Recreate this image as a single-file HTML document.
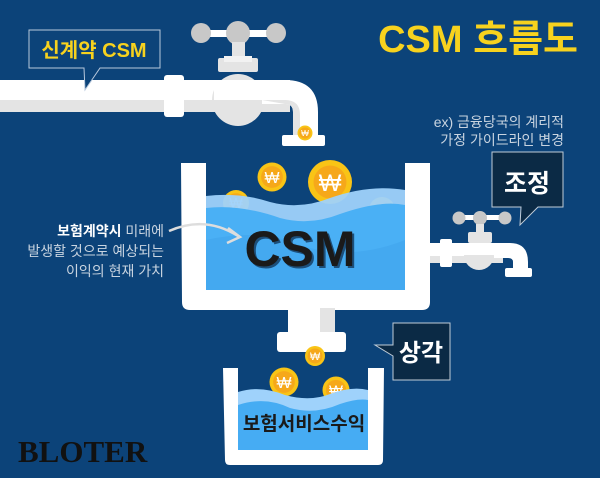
<!DOCTYPE html>
<html><head><meta charset="utf-8"><style>
html,body{margin:0;padding:0;background:#0c4379;}
svg{display:block}
.s{font-family:"Liberation Sans","Noto Sans CJK KR",sans-serif;}
</style></head><body>
<svg width="600" height="478" viewBox="0 0 600 478" xmlns="http://www.w3.org/2000/svg">
<defs>
<g id="coin"><circle r="10" fill="#f9c416"/><circle r="7.5" fill="#f6a81a"/><text class="s" y="4" text-anchor="middle" font-size="11" fill="#fff">₩</text></g>
</defs>
<rect width="600" height="478" fill="#0c4379"/>
<text class="s" x="578" y="52" text-anchor="end" font-size="38" font-weight="bold" fill="#f7d21e">CSM 흐름도</text>
<!-- top pipe & tap -->
<rect x="0" y="80" width="290" height="32" fill="#fff"/>
<rect x="0" y="100" width="290" height="12" fill="#e4e4e4"/>
<rect x="164" y="75" width="20" height="42" rx="3" fill="#fff"/>
<circle cx="238" cy="100" r="26" fill="#e4e4e4"/>
<rect x="214" y="80" width="50" height="20" fill="#fff"/>
<path d="M262 80 L285 80 Q318 80 318 112 L318 137 L293 137 L293 112 Q293 104 285 104 L262 104 Z" fill="#fff"/>
<path d="M262 100 L285 100 Q300 100 300 115 L300 137 L293 137 L293 112 Q293 104 285 104Z" fill="#e4e4e4"/>
<rect x="282" y="135" width="43" height="11" rx="2" fill="#fff"/>
<rect x="200" y="30" width="76" height="7" fill="#fff"/>
<circle cx="201" cy="33" r="10" fill="#c8c8c8"/><circle cx="238" cy="33" r="12" fill="#c8c8c8"/><circle cx="276" cy="33" r="10" fill="#c8c8c8"/>
<rect x="232" y="42" width="13" height="20" fill="#e4e4e4"/>
<rect x="218" y="58" width="40" height="14" rx="2" fill="#e4e4e4"/>
<rect x="224" y="56" width="28" height="6" fill="#f2f2f2"/>
<path d="M29 30 L160 30 L160 68 L100 68 L85 90 L84 68 L29 68 Z" fill="#0c4379" stroke="#b8c8dc" stroke-width="1"/>
<text class="s" x="94" y="57" text-anchor="middle" font-size="20" font-weight="bold" fill="#f7d21e">신계약 CSM</text>
<text class="s" x="564" y="127" text-anchor="end" font-size="14" fill="#c9d4e0">ex) 금융당국의 계리적</text>
<text class="s" x="564" y="145" text-anchor="end" font-size="14" fill="#c9d4e0">가정 가이드라인 변경</text>
<!-- right tap -->
<rect x="425" y="243" width="78" height="20" fill="#fff"/>
<rect x="425" y="256" width="78" height="7" fill="#e4e4e4"/>
<rect x="440" y="239" width="12" height="28" rx="2" fill="#fff"/>
<circle cx="479" cy="255" r="15" fill="#e4e4e4"/>
<rect x="464" y="243" width="30" height="12" fill="#fff"/>
<path d="M494 243 L510 243 Q528 243 528 262 L528 272 L513 272 L513 262 Q513 258 508 258 L494 258Z" fill="#fff"/>
<rect x="505" y="268" width="27" height="9" rx="2" fill="#fff"/>
<rect x="458" y="215" width="46" height="5" fill="#fff"/>
<circle cx="459" cy="218" r="6.5" fill="#c8c8c8"/><circle cx="480" cy="218" r="7" fill="#c8c8c8"/><circle cx="505" cy="218" r="6.5" fill="#c8c8c8"/>
<rect x="476" y="224" width="8" height="10" fill="#e4e4e4"/>
<rect x="468" y="232" width="24" height="11" rx="2" fill="#e4e4e4"/>
<path d="M492 152 L563 152 L563 207 L538 207 L520 225 L521 207 L492 207Z" fill="#0b2a45" stroke="#c0ccd8" stroke-width="1"/>
<text class="s" x="527" y="192" text-anchor="middle" font-size="25" font-weight="bold" fill="#fff">조정</text>
<!-- coins -->
<use href="#coin" transform="translate(305,133) scale(0.75)"/>
<use href="#coin" transform="translate(272,177) scale(1.45)"/>
<use href="#coin" transform="translate(330,182) scale(2.2)"/>
<use href="#coin" transform="translate(236,203) scale(1.3)"/>
<use href="#coin" transform="translate(382,210) scale(1.3)"/>
<!-- big tub -->
<path d="M181 163 L206 163 L206 290 L405 290 L405 163 L430 163 L430 302 Q430 310 422 310 L190 310 Q182 310 182 302 Z" fill="#fff"/>
<path d="M206 196 Q240 192 270 202 Q300 210 330 198 Q370 184 405 190 L405 290 L206 290Z" fill="#9fd2fb" opacity="0.95"/>
<path d="M206 208 Q240 204 280 218 Q310 226 340 214 Q380 200 405 205 L405 290 L206 290Z" fill="#4ab0f5"/>
<path d="M206 240 Q260 228 300 245 Q350 262 405 240 L405 290 L206 290Z" fill="#44a9f0"/>
<text class="s" x="302" y="268" text-anchor="middle" font-size="50" font-weight="bold" fill="#1d4f7a">CSM</text>
<text class="s" x="300" y="266" text-anchor="middle" font-size="50" font-weight="bold" fill="#1a1a1a">CSM</text>
<text class="s" x="164" y="236" text-anchor="end" font-size="14" fill="#c9d4e0"><tspan font-weight="bold" fill="#fff">보험계약시</tspan> 미래에</text>
<text class="s" x="164" y="256" text-anchor="end" font-size="14" fill="#c9d4e0">발생할 것으로 예상되는</text>
<text class="s" x="164" y="276" text-anchor="end" font-size="14" fill="#c9d4e0">이익의 현재 가치</text>
<path d="M169 231 Q205 215 238 236" fill="none" stroke="#ddd" stroke-width="2.5"/>
<path d="M228 228 L240 237 L227 243" fill="none" stroke="#ddd" stroke-width="2.5"/>
<!-- drain -->
<rect x="288" y="308" width="47" height="26" fill="#fff"/>
<rect x="320" y="308" width="15" height="26" fill="#e4e4e4"/>
<rect x="277" y="332" width="69" height="20" rx="3" fill="#fff"/>
<path d="M393 323 L450 323 L450 380 L393 380 L393 356 L375 345 L393 345Z" fill="#0b2a45" stroke="#c0ccd8" stroke-width="1"/>
<text class="s" x="421" y="361" text-anchor="middle" font-size="24" font-weight="bold" fill="#fff">상각</text>
<use href="#coin" transform="translate(315,356) scale(1.0)"/>
<use href="#coin" transform="translate(284,382) scale(1.45)"/>
<use href="#coin" transform="translate(336,390) scale(1.35)"/>
<path d="M223 368 L238 368 L238 450 L368 450 L368 368 L384 368 L383 460 Q383 465 378 465 L230 465 Q225 465 225 460 Z" fill="#fff"/>
<path d="M238 392 Q260 385 285 395 Q310 402 330 394 Q352 386 368 390 L368 450 L238 450Z" fill="#9fd2fb"/>
<path d="M238 405 Q265 396 290 408 Q315 415 340 404 Q358 398 368 400 L368 450 L238 450Z" fill="#46acf3"/>
<text class="s" x="304" y="430" text-anchor="middle" font-size="19" font-weight="bold" fill="#1a1a1a">보험서비스수익</text>
<text x="18" y="462" style="font-family:'Liberation Serif',serif;font-size:31px;font-weight:bold" fill="#111">BLOTER</text>
</svg>
</body></html>
